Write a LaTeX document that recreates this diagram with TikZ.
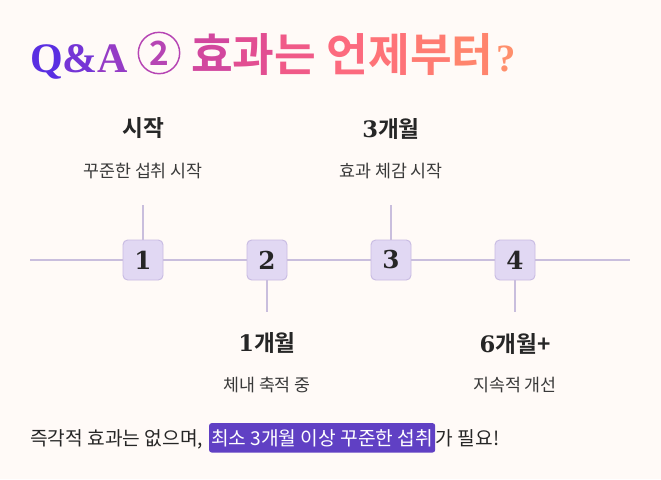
\documentclass[tikz,border=0pt]{standalone}
\usepackage{fontspec}
\setmainfont{Noto Sans CJK KR}[BoldFont={Noto Sans CJK KR Bold}]
\newfontfamily\numfont{DejaVu Serif}
\newfontfamily\qafont{Liberation Serif}
\usetikzlibrary{positioning}

\definecolor{bgcol}{HTML}{FFFAF7}
\definecolor{tline}{HTML}{C9BEDD}
\definecolor{boxfill}{HTML}{E1D8F3}
\definecolor{boxline}{HTML}{C8BBE2}
\definecolor{textdark}{HTML}{262626}
\definecolor{textmid}{HTML}{3A3A3A}
\definecolor{hlcol}{HTML}{6040C4}
\definecolor{gq}{HTML}{5A2FE2}
\definecolor{gamp}{HTML}{7535D6}
\definecolor{ga}{HTML}{953CC6}
\definecolor{gnum}{HTML}{B645B4}
\definecolor{ga1}{HTML}{D2479E}
\definecolor{ga2}{HTML}{E24E92}
\definecolor{ga3}{HTML}{F05A88}
\definecolor{gb1}{HTML}{FC6A7E}
\definecolor{gb2}{HTML}{FE7378}
\definecolor{gb3}{HTML}{FF7B72}
\definecolor{gb4}{HTML}{FF846D}
\definecolor{gq2}{HTML}{FF8F6C}

\begin{document}
\begin{tikzpicture}[x=0.75pt, y=-0.75pt,
    stepbox/.style={draw=boxline, fill=boxfill, line width=0.7pt, rounded corners=3.5pt,
      minimum width=30pt, minimum height=30pt, inner sep=0pt, text=textdark,
      font=\numfont\bfseries\fontsize{18.5pt}{18.5pt}\selectfont},
    headtxt/.style={inner sep=0pt, text=textdark, font=\bfseries\fontsize{17pt}{17pt}\selectfont},
    subtxt/.style={inner sep=0pt, text=textmid, font=\fontsize{13pt}{13pt}\selectfont},
    notetxt/.style={inner sep=0pt, text=textdark, font=\fontsize{14.4pt}{15pt}\selectfont},
    tl/.style={draw=tline, line width=1.2pt}]
    \fill[bgcol] (0,0) rectangle (661,479);
    \useasboundingbox (0,0) rectangle (661,479);

    % title
    \node[inner sep=0pt, anchor=base west, font=\qafont\bfseries\fontsize{31.5pt}{31.5pt}\selectfont] (qa) at (30,72)
        {\textcolor{gq}{Q}\textcolor{gamp}{\&}\textcolor{ga}{A}};
    \node[circle, draw=gnum, line width=1.1pt, minimum size=31pt, inner sep=0pt, text=gnum,
        font=\bfseries\fontsize{25pt}{25pt}\selectfont] (num) at (159,53) {2};
    \node[inner sep=0pt, anchor=base west, font=\bfseries\fontsize{34pt}{34pt}\selectfont] (ttl) at (191,71)
        {\textcolor{ga1}{효}\textcolor{ga2}{과}\textcolor{ga3}{는} \textcolor{gb1}{언}\textcolor{gb2}{제}\textcolor{gb3}{부}\textcolor{gb4}{터}};
    \node[inner sep=0pt, anchor=base west, text=gq2, font=\qafont\bfseries\fontsize{29pt}{29pt}\selectfont] (qm) at ([xshift=1.5pt]ttl.base east) {?};

    % timeline
    \coordinate (lstart) at (30,260);
    \coordinate (lend) at (630,260);
    \node[stepbox] (s1) at (143,260) {1};
    \node[stepbox] (s2) at (267,260) {2};
    \node[stepbox] (s3) at (391,260) {3};
    \node[stepbox] (s4) at (515,260) {4};
    \draw[tl] (lstart) -- (s1) -- (s2) -- (s3) -- (s4) -- (lend);

    \coordinate (t1) at (143,205);
    \coordinate (t2) at (267,312);
    \coordinate (t3) at (391,205);
    \coordinate (t4) at (515,312);
    \draw[tl] (s1) -- (t1);
    \draw[tl] (s2) -- (t2);
    \draw[tl] (s3) -- (t3);
    \draw[tl] (s4) -- (t4);

    % labels
    \node[headtxt] (h1) at (143,128) {시작};
    \node[subtxt] (d1) at (143,171) {꾸준한 섭취 시작};
    \node[headtxt] (h3) at (391,129) {{\numfont 3}개월};
    \node[subtxt] (d3) at (391,171) {효과 체감 시작};
    \node[headtxt] (h2) at (267,343) {{\numfont 1}개월};
    \node[subtxt] (d2) at (267,385) {체내 축적 중};
    \node[headtxt] (h4) at (515,344) {{\numfont 6}개월+};
    \node[subtxt] (d4) at (515,385) {지속적 개선};

    % note
    \node[notetxt, anchor=base west] (n1) at (30,445) {즉각적 효과는 없으며,};
    \node[notetxt, anchor=base west, fill=hlcol, text=white, rounded corners=2pt,
        inner xsep=1.5pt, inner ysep=4.5pt] (hl) at ([xshift=4pt]n1.base east) {최소 3개월 이상 꾸준한 섭취};
    \node[notetxt, anchor=base west] (n2) at (hl.base east) {가 필요!};
\end{tikzpicture}
\end{document}
